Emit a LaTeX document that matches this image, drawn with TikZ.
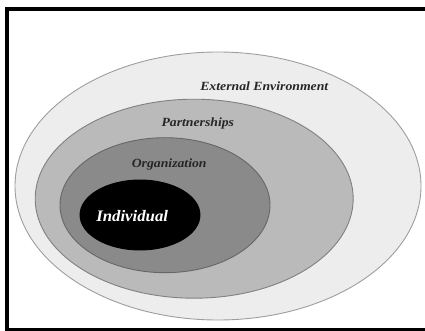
\documentclass[tikz,border=0pt]{standalone}
\usepackage{fontspec}
\setmainfont{Liberation Serif}
\usetikzlibrary{shapes.geometric}
\tikzset{
  ring/.style={ellipse, draw=#1, line width=0.9pt, inner sep=0pt},
  tag/.style={font=\fontsize{12.5}{14}\selectfont\bfseries\itshape, text=black!85,
              anchor=base, inner sep=0pt, xscale=1.1, transform shape}
}
\begin{document}
\begin{tikzpicture}[x=1pt,y=-1pt]
  \useasboundingbox (0,0) rectangle (425,331);
  % frame
  \draw[line width=4pt] (7,8.7) rectangle (430,329.6);
  % nested circles of influence
  \node[ring=black!38, fill=black!7,  minimum width=406pt, minimum height=268pt] (env)  at (218,186) {};
  \node[ring=black!50, fill=black!27, minimum width=318pt, minimum height=199pt] (part) at (194.2,198.7) {};
  \node[ring=black!60, fill=black!46, minimum width=210pt, minimum height=135pt] (org)  at (165,205.2) {};
  \node[ring=black,    fill=black,    minimum width=120pt, minimum height=70pt]  (ind)  at (140,215) {};
  % labels
  \node[tag] (envlab)  at (264.3,90.7) {External Environment};
  \node[tag] (partlab) at (197.8,127) {Partnerships};
  \node[tag] (orglab)  at (169.2,167.3) {Organization};
  \node[tag, font=\fontsize{16}{18}\selectfont\bfseries\itshape, text=white, xscale=1.05/1.1] (indlab) at (132.2,221.7) {Individual};
\end{tikzpicture}
\end{document}
